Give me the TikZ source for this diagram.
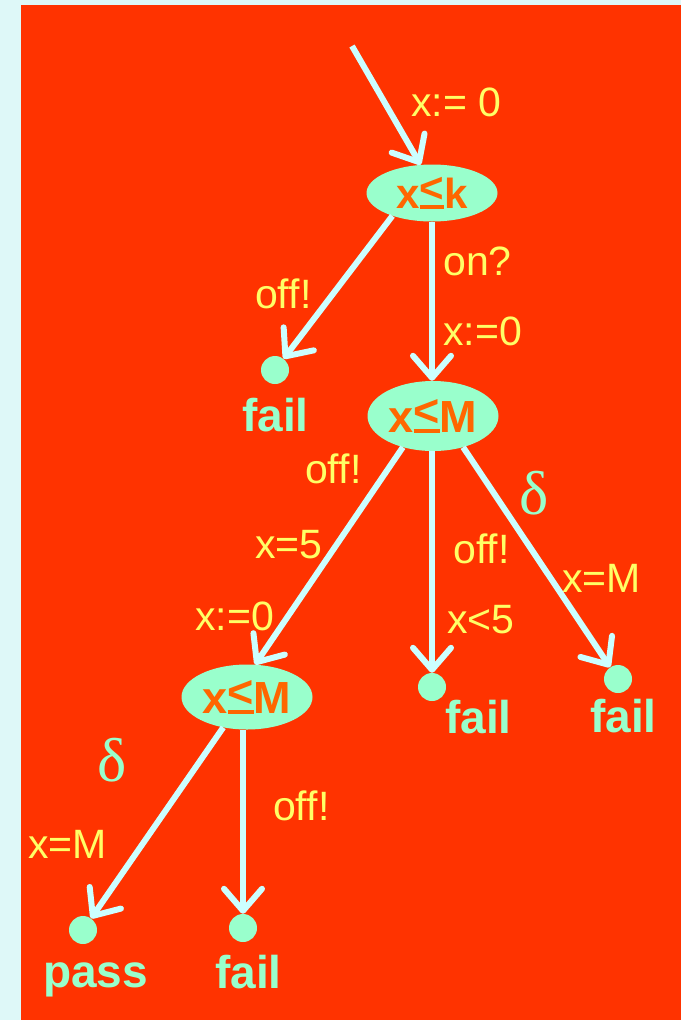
\documentclass[tikz,border=0pt]{standalone}
\usepackage{fontspec}
\setmainfont{Liberation Sans}
\newfontfamily\letradelta{Liberation Serif}
\usepackage{tikz}
\usetikzlibrary{arrows.meta,shapes.geometric}
\definecolor{FondoCian}{RGB}{222,248,248}
\definecolor{RojoFondo}{RGB}{255,51,0}
\definecolor{CianFlecha}{RGB}{204,255,255}
\definecolor{VerdeMenta}{RGB}{153,255,204}
\definecolor{NaranjaInv}{RGB}{255,102,0}
\definecolor{AmarilloEtiq}{RGB}{255,255,102}
% menor o igual como en la figura: < subrayado
\newcommand{\menorig}{\setbox0=\hbox{<}\rlap{\rule{\wd0}{0.08em}}\raise0.14em\box0}

\begin{document}
\begin{tikzpicture}[x=1pt,y=-1pt,>={Straight Barb[length=22pt,width=38pt,round]},
  inv/.style={ellipse,fill=VerdeMenta,text=NaranjaInv,inner sep=0pt,minimum width=131pt,
    font=\fontsize{45}{45}\selectfont\bfseries},
  punto/.style={circle,fill=VerdeMenta,inner sep=0pt,minimum size=28pt},
  veredicto/.style={anchor=base west,inner sep=0pt,text=VerdeMenta,font=\fontsize{46}{46}\selectfont\bfseries},
  etiq/.style={anchor=base west,inner sep=0pt,text=AmarilloEtiq,font=\fontsize{41}{41}\selectfont},
  delta/.style={inner sep=0pt,text=VerdeMenta,font=\letradelta\fontsize{62}{62}\selectfont},
  flecha/.style={->,line width=6pt,CianFlecha}]
  \fill[FondoCian] (0,0) rectangle (681,1020);
  \fill[RojoFondo] (21,5) rectangle (681,1020);

  \coordinate (ini) at (352,46);
  \node[inv,minimum height=57pt,font=\fontsize{42}{42}\selectfont\bfseries] (k) at (432,193) {x\menorig k};
  \node[inv,minimum height=70pt] (m1) at (433,416) {x\menorig M};
  \node[inv,minimum height=65pt] (m2) at (247,697) {x\menorig M};

  \node[punto] (f1) at (275,370) {};
  \node[punto] (f2) at (432,687) {};
  \node[punto] (f3) at (618,679) {};
  \node[punto] (pa) at (83,930) {};
  \node[punto] (f4) at (243,928) {};

  \node[veredicto] (tf1) at (242,431) {fail};
  \node[veredicto] (tf2) at (445,733) {fail};
  \node[veredicto] (tf3) at (590,732) {fail};
  \node[veredicto] (tpa) at (43,987) {pass};
  \node[veredicto] (tf4) at (215,988) {fail};

  \node[etiq] (l0) at (411,116) {x:= 0};
  \node[etiq] (lon) at (443,275) {on?};
  \node[etiq] (lr1) at (443,345) {x:=0};
  \node[etiq] (loff1) at (255,308) {off!};
  \node[etiq] (loff2) at (305,483) {off!};
  \node[etiq] (lx5) at (255,558) {x=5};
  \node[etiq] (lr2) at (195,630) {x:=0};
  \node[etiq] (loff3) at (453,563) {off!};
  \node[etiq] (lxm1) at (562,592) {x=M};
  \node[etiq] (llt5) at (447,633) {x<5};
  \node[etiq] (lxm2) at (28,858) {x=M};
  \node[etiq] (loff4) at (273,820) {off!};
  \node[delta] (d1) at (534,493) {δ};
  \node[delta] (d2) at (112,760) {δ};

  \draw[flecha] (ini) -- (k.112);
  \draw[flecha] (k.210) -- (f1);
  \draw[flecha] (k) -- (k |- m1.north);
  \draw[flecha] (m1.226) -- (m2.76);
  \draw[flecha] (f2 |- m1.south) -- (f2);
  \draw[flecha] (m1.314) -- (f3);
  \draw[flecha] (m2.232) -- (pa);
  \draw[flecha] (m2.south -| f4) -- (f4);
\end{tikzpicture}
\end{document}
